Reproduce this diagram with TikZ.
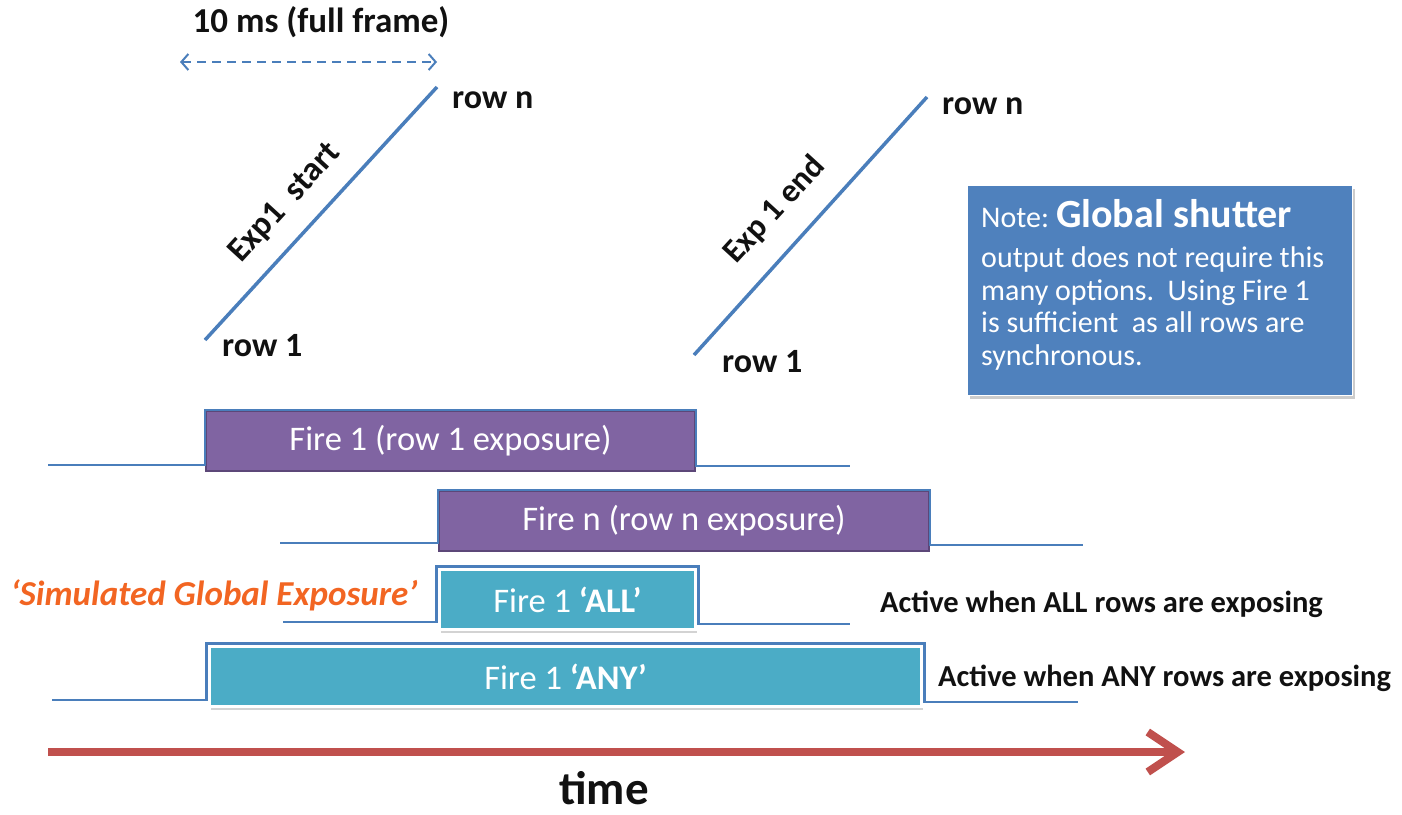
\documentclass[tikz,border=0pt]{standalone}
\usepackage{fontspec}
\setmainfont{Carlito}
\usetikzlibrary{arrows.meta,shadows,calc}
\definecolor{lineblue}{HTML}{4A7EBB}
\definecolor{fpurple}{HTML}{8064A2}
\definecolor{dpurple}{HTML}{5C4778}
\definecolor{fteal}{HTML}{4BACC6}
\definecolor{noteblue}{HTML}{4F81BD}
\definecolor{sorange}{HTML}{F26522}
\definecolor{tred}{HTML}{C0504D}
\definecolor{txt}{HTML}{111111}
\tikzset{
  lbl/.style={text=txt, font=\fontsize{34}{40}\selectfont\bfseries, inner sep=0pt},
  wave/.style={draw=lineblue, line width=2.2pt},
  diag/.style={draw=lineblue, line width=3.5pt},
  purplebox/.style={fill=fpurple, draw=dpurple, line width=2pt, text=white,
     font=\fontsize{34.5}{40}\selectfont, anchor=north west, inner sep=0pt},
  tealbox/.style={fill=fteal, draw=white, line width=3pt, text=white,
     font=\fontsize{34.5}{40}\selectfont, anchor=north west, inner sep=0pt,
     drop shadow={shadow xshift=1pt, shadow yshift=-3pt, opacity=0.35}},
  notebox/.style={fill=noteblue, draw=white, line width=1pt, anchor=north west,
     inner sep=0pt,
     drop shadow={shadow xshift=2pt, shadow yshift=-3pt, opacity=0.4}},
  notetext/.style={text=white, font=\fontsize{30}{32.5}\selectfont,
     anchor=north west, align=left, inner sep=0pt},
}
\begin{document}
\begin{tikzpicture}[x=1pt,y=-1pt]
\useasboundingbox (0,0) rectangle (1402,814);

% full-frame dimension
\node[lbl, font=\fontsize{35}{40}\selectfont\bfseries] (t10) at (321,22) {10 ms (full frame)};
\coordinate (dl) at (180,62);
\coordinate (dr) at (437,62);
\draw[lineblue, line width=2pt, dash pattern=on 9pt off 6pt,
  {Straight Barb[length=7pt,width=16pt,line width=2pt]}-{Straight Barb[length=7pt,width=16pt,line width=2pt]}] (dl) -- (dr);

% exposure start diagonal
\coordinate (s1) at (205,340);
\coordinate (sn) at (437,87);
\draw[diag] (s1) -- (sn);
\node[lbl, anchor=west] (srn) at (452,100) {row n};
\node[lbl, anchor=west] (sr1) at (222,346) {row 1};
\node[lbl, rotate=47.5] (sl) at (285,203) {Exp1\ \ start};

% exposure end diagonal
\coordinate (e1) at (694,355);
\coordinate (en) at (927,97);
\draw[diag] (e1) -- (en);
\node[lbl, anchor=west] (ern) at (942,106) {row n};
\node[lbl, anchor=west] (er1) at (722,362) {row 1};
\node[lbl, rotate=47.5, font=\fontsize{33}{40}\selectfont\bfseries] (el) at (775,210) {Exp 1 end};

% note
\node[notebox, minimum width=385pt, minimum height=210pt] (note) at (967,185) {};
\node[notetext] (notet) at (981,199)
 {Note:\hspace{-2pt} {\fontsize{40}{43}\selectfont\bfseries Global shutter}\\[8pt]
  output does not require this\\
  many options.\ \ Using Fire 1\\
  is sufficient\ \ as all rows are\\
  synchronous.};

% Fire 1
\coordinate (f1a) at (48,465);
\coordinate (f1b) at (850,466);
\node[purplebox, minimum width=489pt, minimum height=60pt] (f1) at (205,410) {Fire 1 (row 1 exposure)};
\draw[wave] (f1a) -- (f1a -| f1.west) -- (f1.north west) -- (f1.north east) -- (f1b -| f1.east) -- (f1b);

% Fire n
\coordinate (fna) at (280,543);
\coordinate (fnb) at (1083,545);
\node[purplebox, minimum width=490pt, minimum height=60pt] (fn) at (438,490) {Fire n (row n exposure)};
\draw[wave] (fna) -- (fna -| fn.west) -- (fn.north west) -- (fn.north east) -- (fnb -| fn.east) -- (fnb);

% Fire ALL
\coordinate (faa) at (283,622);
\coordinate (fab) at (850,624);
\node[tealbox, minimum width=256pt, minimum height=60pt] (fall) at (438,568) {Fire 1 \textbf{‘ALL’}};
\draw[wave] (faa) -- ([xshift=-1.5pt]faa -| fall.west) -- ([xshift=-1.5pt,yshift=1.5pt]fall.north west) -- ([xshift=1.5pt,yshift=1.5pt]fall.north east) -- ([xshift=1.5pt]fab -| fall.east) -- (fab);
\node[text=sorange, font=\fontsize{35}{40}\selectfont\bfseries\itshape, inner sep=0pt] (sim) at (214,595) {‘Simulated Global Exposure’};
\node[lbl, anchor=west, font=\fontsize{30.5}{36}\selectfont\bfseries] (aall) at (880,604) {Active when ALL rows are exposing};

% Fire ANY
\coordinate (fya) at (52,700);
\coordinate (fyb) at (1078,702);
\node[tealbox, minimum width=712pt, minimum height=60pt] (fany) at (208,645) {Fire 1 \textbf{‘ANY’}};
\draw[wave] (fya) -- ([xshift=-1.5pt]fya -| fany.west) -- ([xshift=-1.5pt,yshift=1.5pt]fany.north west) -- ([xshift=1.5pt,yshift=1.5pt]fany.north east) -- ([xshift=1.5pt]fyb -| fany.east) -- (fyb);
\node[lbl, anchor=west, font=\fontsize{30.5}{36}\selectfont\bfseries] (aany) at (938,678) {Active when ANY rows are exposing};

% time axis
\coordinate (ta) at (48,752);
\coordinate (tb) at (1185,752);
\draw[tred, line width=8pt, -{Straight Barb[length=30pt,width=40pt,line width=8pt]}] (ta) -- (tb);
\node[lbl, font=\fontsize{47}{52}\selectfont\bfseries, anchor=base] (time) at (604,804) {time};
\end{tikzpicture}
\end{document}
